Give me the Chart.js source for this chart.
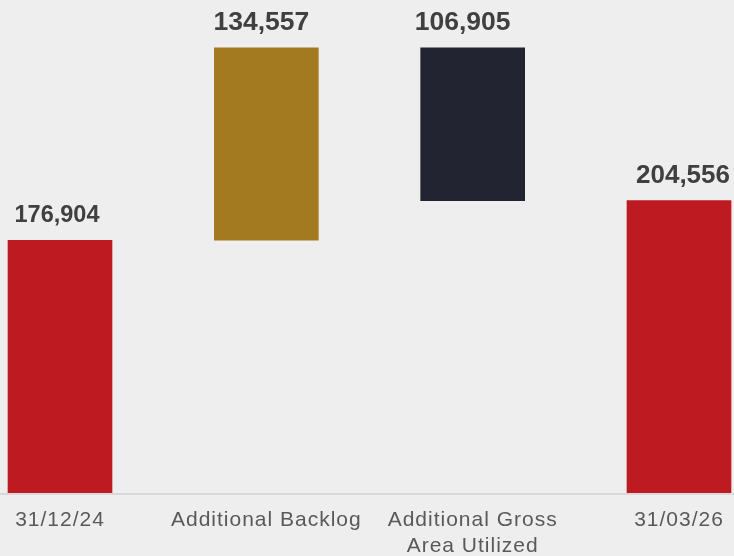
<!DOCTYPE html>
<html>
<head>
<meta charset="utf-8">
<script src="https://cdn.jsdelivr.net/npm/chart.js@4.4.1/dist/chart.umd.min.js"></script>
<style>
  html, body { margin: 0; padding: 0; background: #eeeeee; }
</style>
</head>
<body>
<canvas id="bridge" width="734" height="556"></canvas>
<script>
const categories = ['31/12/24', 'Additional Backlog', ['Additional Gross', 'Area Utilized'], '31/03/26'];
const changes = [176904, 134557, -106905, 204556];
const isTotal = [true, false, false, true];
const barColors = ['#be1a22', '#a37a1f', '#222531', '#be1a22'];

// running level -> floating [from, to] bars
const bars = [];
let level = 0;
changes.forEach((v, i) => {
  if (isTotal[i]) {
    bars.push([0, v]);
    level = v;
  } else {
    bars.push([level, level + v]);
    level += v;
  }
});

const FONT = '"Liberation Sans", Arial, sans-serif';
const labelSizes = [23.5, 26.5, 26.5, 26];
const labelShift = [-3, -5, -10, 4];

const valueLabels = {
  id: 'valueLabels',
  beforeDraw(chart) {
    chart.ctx.letterSpacing = '1px';
  },
  afterDatasetsDraw(chart) {
    const ctx = chart.ctx;
    const meta = chart.getDatasetMeta(0);
    ctx.save();
    ctx.letterSpacing = '0px';
    ctx.fillStyle = '#404040';
    ctx.textAlign = 'center';
    ctx.textBaseline = 'alphabetic';
    meta.data.forEach((bar, i) => {
      const top = Math.min(bar.y, bar.base);
      ctx.font = 'bold ' + labelSizes[i] + 'px ' + FONT;
      ctx.fillText(Math.abs(changes[i]).toLocaleString('en-US'), bar.x + labelShift[i], top - 18);
    });
    // zero line across the whole width
    const y0 = chart.scales.y.getPixelForValue(0);
    ctx.fillStyle = '#d9d9d9';
    ctx.fillRect(0, Math.round(y0), chart.width, 2);
    ctx.restore();
  }
};

new Chart(document.getElementById('bridge'), {
  type: 'bar',
  data: {
    labels: categories,
    datasets: [{
      data: bars,
      backgroundColor: barColors,
      borderWidth: 0,
      barThickness: 104,
      clip: false
    }]
  },
  options: {
    responsive: false,
    devicePixelRatio: 1,
    animation: false,
    layout: { padding: { left: 60, right: 55, top: 0, bottom: 0 } },
    plugins: {
      legend: { display: false },
      tooltip: { enabled: false }
    },
    scales: {
      x: {
        offset: false,
        grid: { display: false, drawTicks: false },
        border: { display: false },
        ticks: {
          color: '#595959',
          font: { family: FONT, size: 21, lineHeight: 1.25 },
          padding: 14,
          maxRotation: 0,
          autoSkip: false
        },
        afterFit: (scale) => { scale.height = 63; }
      },
      y: {
        display: false,
        min: 0,
        max: 345000
      }
    }
  },
  plugins: [valueLabels]
});
</script>
</body>
</html>
